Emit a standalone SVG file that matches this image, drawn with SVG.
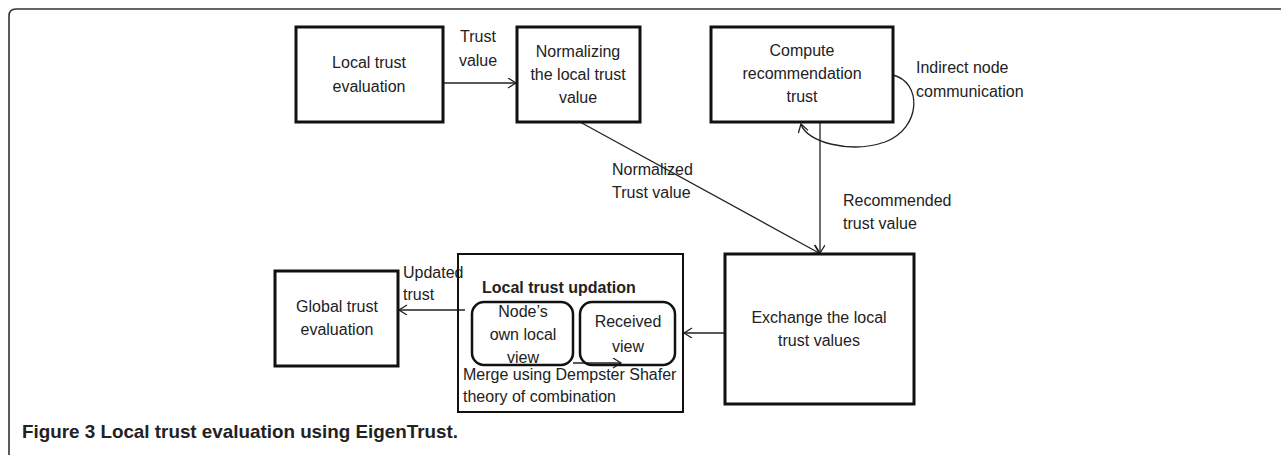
<svg xmlns="http://www.w3.org/2000/svg" width="1281" height="455" viewBox="0 0 1281 455">
<defs>
<style>
.box{fill:#fff;stroke:#111;stroke-width:3}
.box2{fill:none;stroke:#111;stroke-width:2}
.rbox{fill:none;stroke:#111;stroke-width:2.5}
.t{font-family:"Liberation Sans",Arial,sans-serif;font-size:16px;fill:#222}
.c{text-anchor:middle}
.b{font-weight:bold}
.ln{fill:none;stroke:#222;stroke-width:1.3}
.cap{font-family:"Liberation Sans",Arial,sans-serif;font-size:18.5px;font-weight:bold;fill:#222}
</style>
<marker id="ah" markerUnits="userSpaceOnUse" markerWidth="12" markerHeight="12" refX="9" refY="5" orient="auto">
<path d="M1,0 L9,5 L1,10" fill="none" stroke="#222" stroke-width="1.3"/>
</marker>
</defs>
<rect width="1281" height="455" fill="#fff"/>
<path d="M9,455 L9,16 Q9,9 16,9 L1281,9" fill="none" stroke="#333" stroke-width="1.6"/>

<g id="connectors">
<line class="ln" x1="443" y1="83" x2="516" y2="83" marker-end="url(#ah)"/>
<line class="ln" x1="580" y1="122" x2="819" y2="253" marker-end="url(#ah)"/>
<line class="ln" x1="820" y1="122" x2="820" y2="253" marker-end="url(#ah)"/>
<path class="ln" d="M893,75 C922,82 922,128 885,142 C850,154 806,142 801,124" marker-end="url(#ah)"/>
<line class="ln" x1="732" y1="333" x2="684" y2="333" marker-end="url(#ah)"/>
<line class="ln" x1="465" y1="310" x2="399" y2="310" marker-end="url(#ah)"/>
<line class="ln" x1="573" y1="363" x2="621" y2="363" marker-end="url(#ah)"/>
</g>

<g id="local-trust-evaluation">
<rect class="box" x="296" y="27" width="147" height="95"/>
<text class="t c" x="369" y="68">Local trust</text>
<text class="t c" x="369" y="92">evaluation</text>
</g>
<g id="normalizing">
<rect class="box" x="517" y="27" width="123" height="95"/>
<text class="t c" x="578" y="57">Normalizing</text>
<text class="t c" x="578" y="80">the local trust</text>
<text class="t c" x="578" y="103">value</text>
</g>
<g id="compute-recommendation">
<rect class="box" x="711" y="27" width="182" height="95"/>
<text class="t c" x="802" y="56">Compute</text>
<text class="t c" x="802" y="79">recommendation</text>
<text class="t c" x="802" y="102">trust</text>
</g>
<g id="exchange">
<rect class="box" x="725" y="254" width="189" height="150"/>
<text class="t c" x="819" y="323">Exchange the local</text>
<text class="t c" x="819" y="346">trust values</text>
</g>
<g id="local-trust-updation">
<rect class="box2" x="458" y="254" width="225" height="158"/>
<text class="t b" x="482" y="293">Local trust updation</text>
<text class="t" x="463" y="380">Merge using Dempster Shafer</text>
<text class="t" x="463" y="402">theory of combination</text>
</g>
<g id="nodes-own-view">
<rect class="rbox" x="472" y="302" width="101" height="63" rx="12"/>
<text class="t c" x="523" y="317">Node’s</text>
<text class="t c" x="523" y="340">own local</text>
<text class="t c" x="523" y="363">view</text>
</g>
<g id="received-view">
<rect class="rbox" x="580" y="302" width="95" height="63" rx="12"/>
<text class="t c" x="628" y="327">Received</text>
<text class="t c" x="628" y="352">view</text>
</g>
<g id="global-trust">
<rect class="box" x="275" y="271" width="123" height="95"/>
<text class="t c" x="337" y="312">Global trust</text>
<text class="t c" x="337" y="335">evaluation</text>
</g>

<g id="labels">
<text class="t c" x="478" y="42">Trust</text>
<text class="t c" x="478" y="66">value</text>
<text class="t" x="916" y="73">Indirect node</text>
<text class="t" x="916" y="97">communication</text>
<text class="t" x="612" y="175">Normalized</text>
<text class="t" x="612" y="198">Trust value</text>
<text class="t" x="843" y="206">Recommended</text>
<text class="t" x="843" y="229">trust value</text>
<text class="t" x="403" y="278">Updated</text>
<text class="t" x="403" y="300">trust</text>
</g>

<text class="cap" x="22" y="438" textLength="436" lengthAdjust="spacingAndGlyphs">Figure 3 Local trust evaluation using EigenTrust.</text>
</svg>
